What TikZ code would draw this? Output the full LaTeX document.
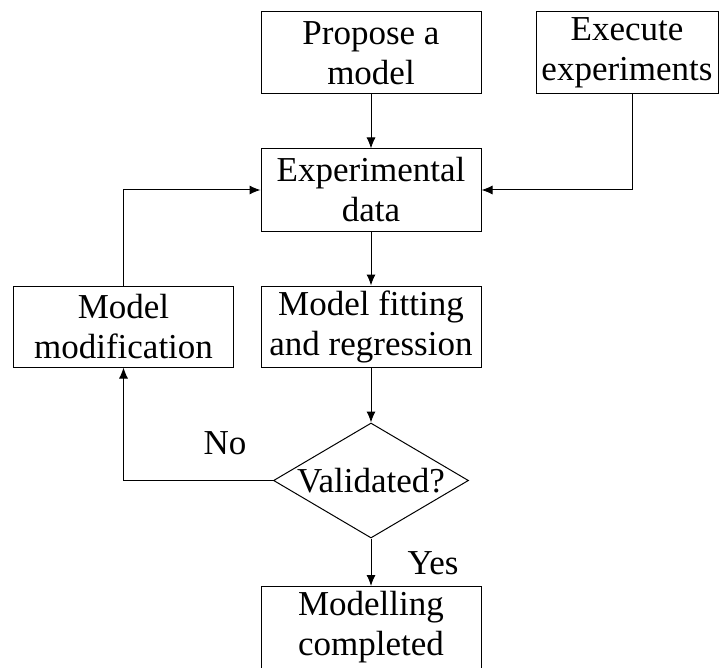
\documentclass[tikz,border=0pt]{standalone}
\usepackage{fontspec}
\setmainfont{Liberation Serif}
\usetikzlibrary{arrows.meta, shapes.geometric}

\begin{document}
\begin{tikzpicture}[> = {Latex[length = 11pt, width = 9pt]}, x = 1pt, y = -1pt,
	every node/.style = {font = \fontsize{35}{40}\selectfont},
	box/.style = {draw, line width = 1pt, minimum width = 220pt, minimum height = 82pt, inner sep = 0pt, align = center},
	link/.style = {->, line width = 1pt}]

% Fix the frame

\useasboundingbox (0, 0) rectangle (719, 668);

% The top row

\node (propose) [box] at (371, 53) {Propose a\\model};
\node (execute) [box, minimum width = 182pt] at (627, 53) {Execute\\experiments};

% The data and the fitting

\node (expdata) [box] at (371, 190) {Experimental\\data};
\node (fitting) [box, minimum height = 81pt] at (371, 326.5) {Model fitting\\and regression};
\node (modify) [box, minimum height = 81pt] at (123.5, 326.5) {Model\\modification};

% The check

\node (valid) [diamond, draw, line width = 1pt, minimum width = 195pt, minimum height = 115pt, inner sep = 0pt] at (371, 480.5) {};
\node (validtext) at (valid.center) {Validated?};

\node (done) [box] at (371, 627.5) {Modelling\\completed};

% Connectors

\draw [link] (propose) -- (expdata);
\draw [link] ([xshift = 5pt] execute.south) |- (expdata.east);
\draw [link] (expdata) -- (fitting);
\draw [link] (fitting) -- (valid.north);
\draw [link] (valid.south) -- (done);
\draw [link] (valid.west) -| (modify.south);
\draw [link] (modify.north) |- (expdata.west);

% Answers

\node (no) at (225, 443) {No};
\node (yes) at (433, 563) {Yes};

\end{tikzpicture}
\end{document}
